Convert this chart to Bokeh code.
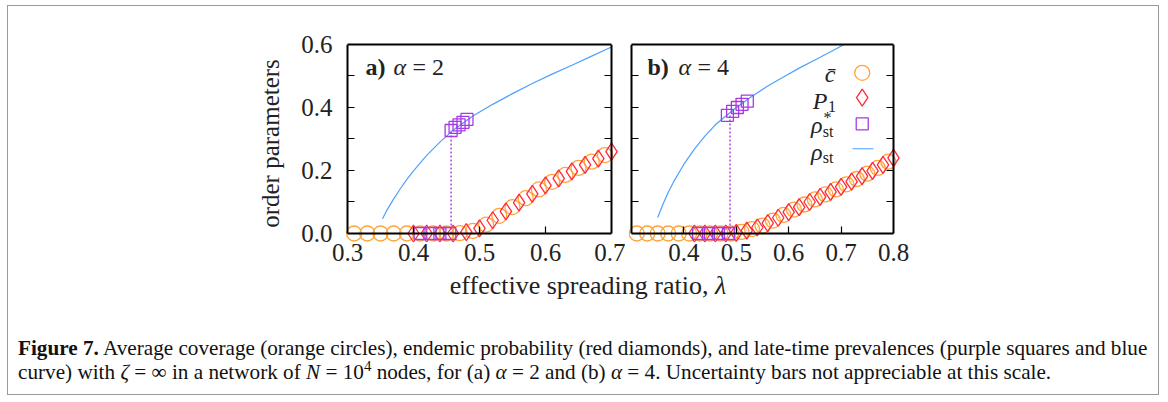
from bokeh.plotting import figure
from bokeh.models import FixedTicker, LinearAxis, Range1d, Spacer, Div, CustomJSTickFormatter
from bokeh.layouts import row, column
from bokeh.core.properties import value
from bokeh.embed import file_html
from bokeh.resources import INLINE

# ---------------- data ----------------
# panel a (alpha = 2)
a_circ_x = [0.31, 0.33, 0.35, 0.37, 0.39, 0.41, 0.43, 0.45, 0.47, 0.49, 0.51, 0.53, 0.55, 0.57, 0.59, 0.61, 0.63, 0.65, 0.67, 0.69]
a_circ_y = [0.0, 0.0, 0.0, 0.0, 0.0, 0.0, 0.0, 0.0, 0.001, 0.008, 0.028, 0.056, 0.084, 0.112, 0.14, 0.164, 0.186, 0.208, 0.228, 0.249]
a_diam_x = [0.40, 0.42, 0.44, 0.46, 0.48, 0.50, 0.52, 0.54, 0.56, 0.58, 0.60, 0.62, 0.64, 0.66, 0.68, 0.70]
a_diam_y = [0.0, 0.0, 0.0, 0.0, 0.004, 0.016, 0.042, 0.07, 0.098, 0.126, 0.153, 0.175, 0.197, 0.218, 0.238, 0.26]
a_sq_x = [0.41, 0.425, 0.44, 0.455, 0.457, 0.463, 0.469, 0.475, 0.481]
a_sq_y = [0.0, 0.0, 0.0, 0.0, 0.327, 0.337, 0.345, 0.353, 0.362]
a_line_x = [0.353, 0.36, 0.37, 0.38, 0.39, 0.40, 0.42, 0.44, 0.46, 0.49, 0.52, 0.55, 0.58, 0.61, 0.64, 0.67, 0.70]
a_line_y = [0.047, 0.075, 0.110, 0.142, 0.172, 0.199, 0.248, 0.290, 0.328, 0.373, 0.410, 0.444, 0.476, 0.506, 0.534, 0.563, 0.592]
a_crit = 0.457

# panel b (alpha = 4)
b_circ_x = [0.31, 0.33, 0.35, 0.37, 0.39, 0.41, 0.43, 0.45, 0.47, 0.49, 0.51, 0.53, 0.55, 0.57, 0.59, 0.61, 0.63, 0.65, 0.67, 0.69, 0.71, 0.73, 0.75, 0.77, 0.79]
b_circ_y = [0.0, 0.0, 0.0, 0.0, 0.0, 0.0, 0.0, 0.0, 0.0, 0.0, 0.005, 0.014, 0.025, 0.041, 0.059, 0.076, 0.092, 0.108, 0.124, 0.14, 0.156, 0.173, 0.19, 0.208, 0.228]
b_diam_x = [0.42, 0.44, 0.46, 0.48, 0.50, 0.52, 0.54, 0.56, 0.58, 0.60, 0.62, 0.64, 0.66, 0.68, 0.70, 0.72, 0.74, 0.76, 0.78, 0.80]
b_diam_y = [0.0, 0.0, 0.0, 0.0, 0.002, 0.009, 0.019, 0.033, 0.05, 0.068, 0.084, 0.10, 0.116, 0.132, 0.148, 0.165, 0.182, 0.199, 0.218, 0.24]
b_sq_x = [0.428, 0.447, 0.466, 0.485, 0.483, 0.493, 0.502, 0.511, 0.521]
b_sq_y = [0.0, 0.0, 0.0, 0.0, 0.375, 0.388, 0.400, 0.410, 0.420]
b_line_x = [0.35, 0.36, 0.37, 0.38, 0.40, 0.42, 0.44, 0.46, 0.48, 0.50, 0.53, 0.56, 0.59, 0.62, 0.65, 0.68, 0.706]
b_line_y = [0.051, 0.093, 0.130, 0.163, 0.220, 0.268, 0.309, 0.345, 0.373, 0.400, 0.436, 0.468, 0.497, 0.525, 0.551, 0.577, 0.600]
b_crit = 0.488

y_ticks = [0.0, 0.2, 0.4, 0.6]
a_x_ticks = [0.3, 0.4, 0.5, 0.6, 0.7]
b_x_ticks = [0.4, 0.5, 0.6, 0.7, 0.8]

ORANGE = "#ffa43a"
RED = "#ff2a3a"
PURPLE = "#a53ae6"
BLUE = "#4ea0ff"
INK = "#222222"
SERIF = "Liberation Serif"


def frame_axis(ax, in_len=7):
    ax.axis_line_width = 2
    ax.axis_line_color = "black"
    ax.major_tick_in = 0
    ax.major_tick_out = 0
    ax.minor_tick_in = in_len
    ax.minor_tick_out = 0
    ax.minor_tick_line_width = 1.2
    ax.major_label_standoff = 0
    ax.axis_label = None


def label_axis(ax, standoff):
    ax.axis_line_color = None
    ax.major_tick_line_color = None
    ax.minor_tick_line_color = None
    ax.major_tick_in = 0
    ax.major_tick_out = 0
    ax.minor_tick_in = 0
    ax.minor_tick_out = 0
    ax.major_label_standoff = standoff
    ax.major_label_text_font = SERIF
    ax.major_label_text_font_size = "25px"
    ax.major_label_text_color = INK


def make_panel(x0, x1, xlo, xhi, left_border, right_border, top_border, frame_w, x_ticks, labelled_left):
    p = figure(x_range=Range1d(x0, x1), y_range=Range1d(-0.0286, 0.6),
               frame_width=frame_w, frame_height=198,
               min_border_left=left_border, min_border_right=right_border,
               min_border_top=top_border, min_border_bottom=34,
               output_backend="svg", toolbar_location=None,
               x_axis_location=None, y_axis_location=None)
    p.outline_line_color = None
    p.xgrid.visible = False
    p.ygrid.visible = False
    p.background_fill_color = "white"
    p.border_fill_color = "white"
    fmt = CustomJSTickFormatter(code="return tick.toFixed(1);")

    # labels of the bottom axis (sit just under the frame)
    xl = LinearAxis(ticker=FixedTicker(ticks=x_ticks), formatter=fmt)
    label_axis(xl, 1)
    p.add_layout(xl, "below")
    # bottom axis line at rho = 0, with inward ticks
    inner = [t for t in x_ticks if xlo < t < xhi]
    xb = LinearAxis(ticker=FixedTicker(ticks=[], minor_ticks=inner), fixed_location=0.0, bounds=(xlo, xhi))
    frame_axis(xb)
    p.add_layout(xb, "below")
    # top frame edge
    xt = LinearAxis(ticker=FixedTicker(ticks=[], minor_ticks=[]), bounds=(xlo, xhi))
    frame_axis(xt)
    p.add_layout(xt, "above")

    if labelled_left:
        yl_lab = LinearAxis(ticker=FixedTicker(ticks=y_ticks), formatter=fmt)
        label_axis(yl_lab, 8)
        yl_lab.axis_label = "order parameters"
        yl_lab.axis_label_text_font = SERIF
        yl_lab.axis_label_text_font_style = "normal"
        yl_lab.axis_label_text_font_size = "25px"
        yl_lab.axis_label_text_color = INK
        yl_lab.axis_label_standoff = 14
        p.add_layout(yl_lab, "left")
    yl = LinearAxis(ticker=FixedTicker(ticks=[], minor_ticks=[0.1, 0.2, 0.3, 0.4, 0.5]),
                    fixed_location=xlo, bounds=(0.0, 0.6))
    frame_axis(yl)
    p.add_layout(yl, "left")
    yr = LinearAxis(ticker=FixedTicker(ticks=[], minor_ticks=[0.1, 0.2, 0.3, 0.4, 0.5]),
                    fixed_location=xhi, bounds=(0.0, 0.6))
    frame_axis(yr)
    p.add_layout(yr, "right")
    return p


def draw_data(p, cx, cy, dx, dy, sx, sy, lx, ly, crit):
    p.line(lx, ly, line_color=BLUE, line_width=1.2)
    p.segment(x0=[crit], y0=[0.0], x1=[crit], y1=[sy[4]], line_color=PURPLE,
              line_width=1.4, line_dash="2 2")
    p.scatter(cx, cy, marker="circle", size=15, fill_color=None, line_color=ORANGE, line_width=1.3)
    p.scatter(cx, cy, marker="dot", size=3, line_color=ORANGE, fill_color=ORANGE)
    p.scatter(dx, dy, marker="diamond", size=17, fill_color=None, line_color=RED, line_width=1.3)
    p.scatter(dx, dy, marker="dot", size=3, line_color=RED, fill_color=RED)
    p.scatter(sx, sy, marker="square", size=12, fill_color=None, line_color=PURPLE, line_width=1.3)
    p.scatter(sx, sy, marker="dot", size=3, line_color=PURPLE, fill_color=PURPLE)


# panel a: 0.3 -> px 347, 660 px/unit ; panel b: 0.3 -> px 631, 524 px/unit
pa = make_panel(0.3 - 7 / 660, 0.3 + 272 / 660, 0.3, 0.7, 90, 6, 38, 279, a_x_ticks, True)
pb = make_panel(0.3 - 3 / 524, 0.8 + 9 / 524, 0.3, 0.8, 3, 8, 38, 274, b_x_ticks, False)

draw_data(pa, a_circ_x, a_circ_y, a_diam_x, a_diam_y, a_sq_x, a_sq_y, a_line_x, a_line_y, a_crit)
draw_data(pb, b_circ_x, b_circ_y, b_diam_x, b_diam_y, b_sq_x, b_sq_y, b_line_x, b_line_y, b_crit)


def txt(p, x, y, t, size="24px", style="normal", align="left"):
    p.text(x=[x], y=[y], text=[t], text_font=value(SERIF), text_font_style=style,
           text_font_size=size, text_align=align, text_baseline="middle", text_color=INK)


# panel titles
txt(pa, 0.3273, 0.527, "a)", style="bold")
txt(pa, 0.3697, 0.527, "α", style="italic")
txt(pa, 0.3985, 0.527, "= 2")
txt(pb, 0.3305, 0.527, "b)", style="bold")
txt(pb, 0.3897, 0.527, "α", style="italic")
txt(pb, 0.4260, 0.527, "= 4")

# legend in panel b (data coordinates)
leg_x = 0.7403
pb.scatter([leg_x], [0.510], marker="circle", size=15, fill_color=None, line_color=ORANGE, line_width=1.3)
pb.scatter([leg_x], [0.510], marker="dot", size=3, line_color=ORANGE)
pb.scatter([leg_x], [0.431], marker="diamond", size=17, fill_color=None, line_color=RED, line_width=1.3)
pb.scatter([leg_x], [0.431], marker="dot", size=3, line_color=RED)
pb.scatter([leg_x], [0.348], marker="square", size=12, fill_color=None, line_color=PURPLE, line_width=1.3)
pb.scatter([leg_x], [0.348], marker="dot", size=3, line_color=PURPLE)
pb.segment(x0=[0.7218], y0=[0.269], x1=[0.7618], y1=[0.269], line_color=BLUE, line_width=1.2)

txt(pb, 0.689, 0.507, "c\u0304", style="italic", align="right")
txt(pb, 0.674, 0.422, "P", style="italic", align="right")
txt(pb, 0.675, 0.402, "1", size="16px")
txt(pb, 0.6645, 0.343, "ρ", style="italic", align="right")
txt(pb, 0.6664, 0.368, "*", size="16px")
txt(pb, 0.6650, 0.325, "st", size="16px")
txt(pb, 0.6645, 0.258, "ρ", style="italic", align="right")
txt(pb, 0.6650, 0.240, "st", size="16px")

xlabel = Div(text="effective spreading ratio, <i>λ</i>", width=400, height=30, margin=(-5, 0, 0, 380),
             styles={"font-family": SERIF, "font-size": "26px", "color": INK,
                     "text-align": "center", "line-height": "30px"})

caption = Div(text=("<b>Figure 7.</b> Average coverage (orange circles), endemic probability (red diamonds), "
                    "and late-time prevalences (purple squares and blue<br>curve) with <i>ζ</i> = ∞ in a network of "
                    "<i>N</i> = 10<sup style=\"line-height:0; font-size:0.7em\">4</sup> nodes, for (a) <i>α</i> = 2 "
                    "and (b) <i>α</i> = 4. Uncertainty bars not appreciable at this scale."),
              width=1145, height=60, margin=(35, 0, 0, 10),
              styles={"font-family": SERIF, "font-size": "21.2px", "color": "#111111",
                      "line-height": "24px", "white-space": "nowrap"})

top = row(Spacer(width=242, height=10), pa, pb)
layout = column(top, xlabel, caption, width=1152, height=390, margin=(5, 0, 0, 7),
                styles={"border": "1px solid #9a9a9a", "background-color": "white"})

open("out.html", "w").write(file_html(layout, INLINE))
